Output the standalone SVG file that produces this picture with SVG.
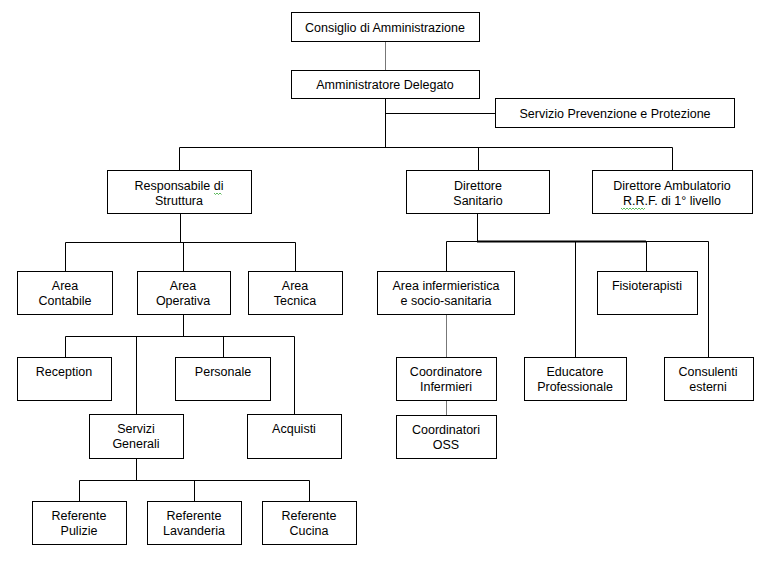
<svg xmlns="http://www.w3.org/2000/svg" width="776" height="561" viewBox="0 0 776 561">
<style>
.box{fill:#fff;stroke:#000;stroke-width:1}
.t{font-family:"Liberation Sans",Arial,sans-serif;font-size:12.5px;fill:#000;text-anchor:middle}
.c{fill:none;stroke:#000;stroke-width:1}
.g{stroke:#777}
.sq{fill:none;stroke:#3a3;stroke-width:0.8}
</style>
<rect width="776" height="561" fill="#fff"/>
<g id="connectors">
<path class="c g" d="M385.5 41V70"/>
<path class="c" d="M385.5 98V147.5M385.5 113.5H495M179.5 147.5H672.5M179.5 147.5V170M478.5 147.5V170M672.5 147.5V170"/>
<path class="c" d="M180.5 213V242.5M65.5 242.5H295.5M65.5 242.5V271M183.5 242.5V271M295.5 242.5V271"/>
<path class="c" d="M183.5 314V336.5M65.5 336.5H294.5M65.5 336.5V357M136.5 336.5V414M223.5 336.5V357M294.5 336.5V414"/>
<path class="c" d="M136.5 458V480.5M79.5 480.5H309.5M79.5 480.5V501M194.5 480.5V501M309.5 480.5V501"/>
<path class="c" d="M477.5 213V241.5M446.5 241.5H708.5M446.5 241.5V271M575.5 241.5V357M646.5 241.5V271M708.5 241.5V357"/>
<path class="c" d="M477 241.5H646" style="stroke-width:2"/>
<path class="c g" d="M446.5 314V357M446.5 400V415"/>
</g>
<g id="consiglio"><rect class="box" x="291.5" y="12.5" width="188" height="29"/><text class="t" x="385" y="32">Consiglio di Amministrazione</text></g>
<g id="amministratore"><rect class="box" x="291.5" y="70.5" width="188" height="28"/><text class="t" x="385" y="89">Amministratore Delegato</text></g>
<g id="servizio"><rect class="box" x="495.5" y="98.5" width="239" height="29"/><text class="t" x="615" y="118">Servizio Prevenzione e Protezione</text></g>
<g id="responsabile"><rect class="box" x="107.5" y="170.5" width="144" height="43"/><text class="t" x="179" y="190">Responsabile di</text><text class="t" x="179" y="205">Struttura</text><path class="sq" d="M214 193l1.5 1.5 1.5-1.5 1.5 1.5 1.5-1.5 1.5 1.5"/></g>
<g id="direttore-sanitario"><rect class="box" x="406.5" y="170.5" width="143" height="43"/><text class="t" x="478" y="190">Direttore</text><text class="t" x="478" y="205">Sanitario</text></g>
<g id="direttore-ambulatorio"><rect class="box" x="592.5" y="170.5" width="160" height="43"/><text class="t" x="672" y="190">Direttore Ambulatorio</text><text class="t" x="672" y="205">R.R.F. di 1° livello</text><path class="sq" d="M621 208l1.5 1.5 1.5-1.5 1.5 1.5 1.5-1.5 1.5 1.5 1.5-1.5 1.5 1.5 1.5-1.5 1.5 1.5 1.5-1.5 1.5 1.5 1.5-1.5 1.5 1.5 1.5-1.5 1.5 1.5 1.5-1.5"/></g>
<g id="area-contabile"><rect class="box" x="17.5" y="271.5" width="95" height="43"/><text class="t" x="65" y="290">Area</text><text class="t" x="65" y="305">Contabile</text></g>
<g id="area-operativa"><rect class="box" x="137.5" y="271.5" width="93" height="43"/><text class="t" x="183" y="290">Area</text><text class="t" x="183" y="305">Operativa</text></g>
<g id="area-tecnica"><rect class="box" x="248.5" y="271.5" width="94" height="43"/><text class="t" x="295" y="290">Area</text><text class="t" x="295" y="305">Tecnica</text></g>
<g id="area-infermieristica"><rect class="box" x="377.5" y="271.5" width="137" height="43"/><text class="t" x="446" y="290">Area infermieristica</text><text class="t" x="446" y="305">e socio-sanitaria</text></g>
<g id="fisioterapisti"><rect class="box" x="597.5" y="271.5" width="100" height="43"/><text class="t" x="647" y="290">Fisioterapisti</text></g>
<g id="reception"><rect class="box" x="17.5" y="357.5" width="94" height="43"/><text class="t" x="64" y="376">Reception</text></g>
<g id="personale"><rect class="box" x="175.5" y="357.5" width="95" height="43"/><text class="t" x="223" y="376">Personale</text></g>
<g id="coordinatore-infermieri"><rect class="box" x="396.5" y="357.5" width="100" height="43"/><text class="t" x="446" y="376">Coordinatore</text><text class="t" x="446" y="391">Infermieri</text></g>
<g id="educatore"><rect class="box" x="524.5" y="357.5" width="102" height="43"/><text class="t" x="575" y="376">Educatore</text><text class="t" x="575" y="391">Professionale</text></g>
<g id="consulenti"><rect class="box" x="664.5" y="357.5" width="89" height="43"/><text class="t" x="708" y="376">Consulenti</text><text class="t" x="708" y="391">esterni</text></g>
<g id="servizi-generali"><rect class="box" x="89.5" y="414.5" width="94" height="44"/><text class="t" x="136" y="433">Servizi</text><text class="t" x="136" y="448">Generali</text></g>
<g id="acquisti"><rect class="box" x="247.5" y="414.5" width="94" height="44"/><text class="t" x="294" y="433">Acquisti</text></g>
<g id="coordinatori-oss"><rect class="box" x="396.5" y="415.5" width="100" height="43"/><text class="t" x="446" y="434">Coordinatori</text><text class="t" x="446" y="449">OSS</text></g>
<g id="referente-pulizie"><rect class="box" x="32.5" y="501.5" width="94" height="43"/><text class="t" x="79" y="520">Referente</text><text class="t" x="79" y="535">Pulizie</text></g>
<g id="referente-lavanderia"><rect class="box" x="147.5" y="501.5" width="94" height="43"/><text class="t" x="194" y="520">Referente</text><text class="t" x="194" y="535">Lavanderia</text></g>
<g id="referente-cucina"><rect class="box" x="262.5" y="501.5" width="94" height="43"/><text class="t" x="309" y="520">Referente</text><text class="t" x="309" y="535">Cucina</text></g>
</svg>
